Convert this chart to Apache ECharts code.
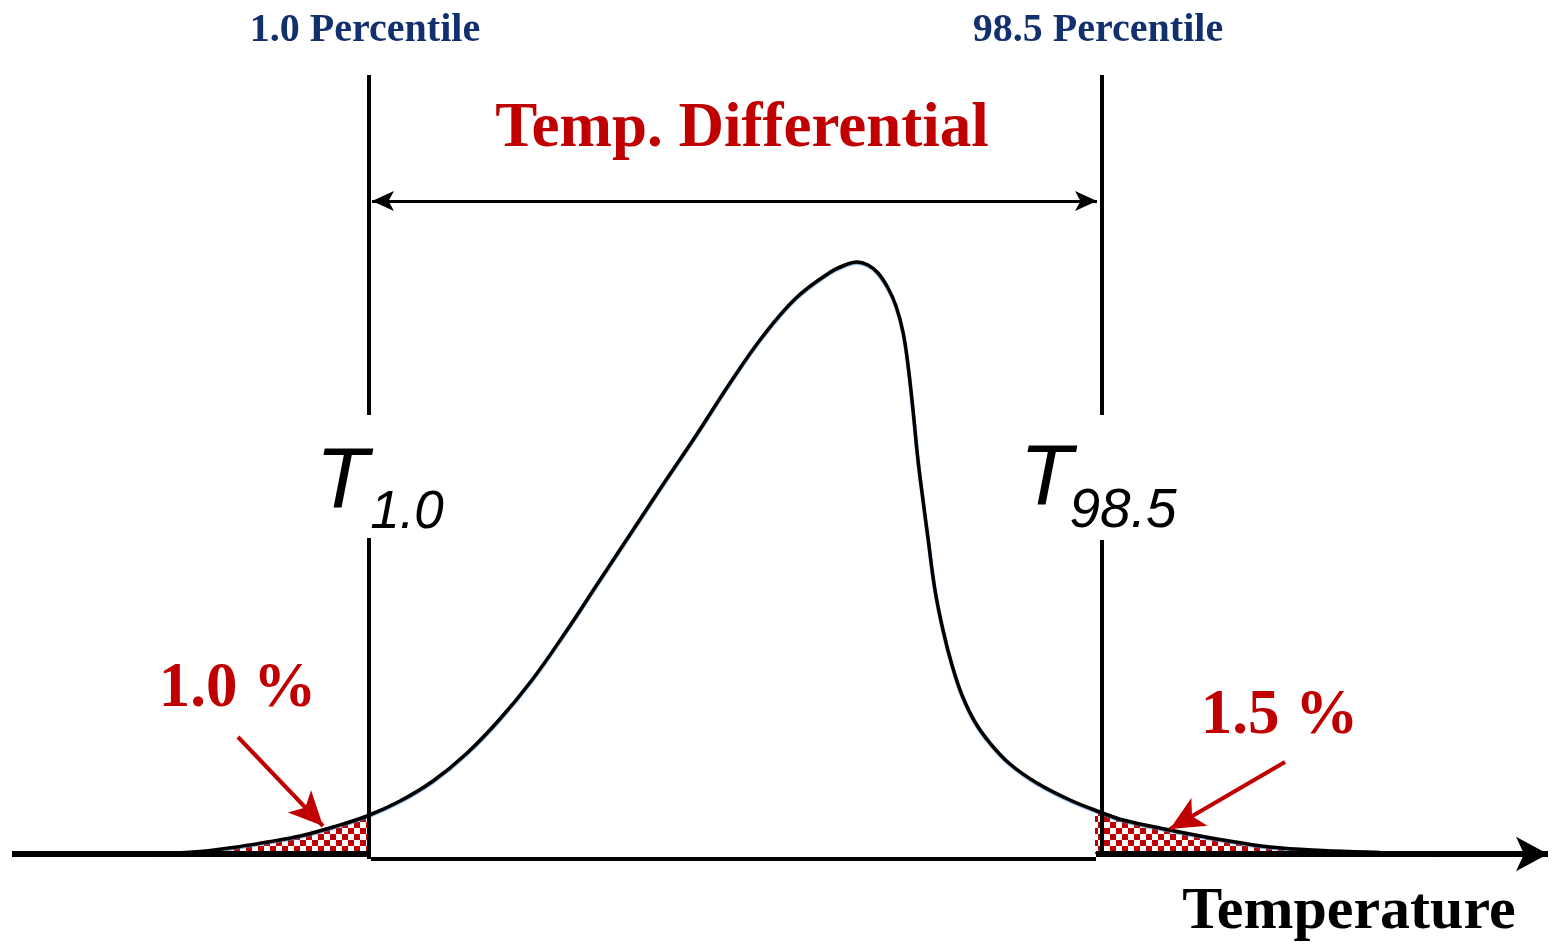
<!DOCTYPE html>
<html>
<head>
<meta charset="utf-8">
<script src="https://cdn.jsdelivr.net/npm/echarts@6/dist/echarts.min.js"></script>
<style>
html,body{margin:0;padding:0;background:#fff;}
#chart{width:1553px;height:947px;}
</style>
</head>
<body>
<div id="chart"></div>
<script>
// ---- data (temperature and density in arbitrary units) ----
const curveTemp    = [13.8, 18.8, 22.1, 25.5, 28.8, 32.1, 35.5, 38.8, 42.1, 45.4, 48.7, 52.0, 55.3, 58.6, 61.9, 65.2, 68.5, 71.8, 75.1, 78.4, 81.7, 83.3, 84.5, 85.6, 86.6, 87.6, 88.4, 89.1, 89.6, 90.1, 90.6, 91.1, 91.6, 92.3, 93.1, 94.0, 95.0, 96.3, 97.8, 99.8, 102.5, 105.8, 108.8, 111.1, 115.8, 121.1, 125.8, 131.1, 136.8, 142.8];
const curveDensity = [0.0, 0.25, 0.65, 1.2, 1.8, 2.7, 3.8, 5.3, 7.3, 10.0, 13.4, 17.4, 22.1, 27.1, 32.1, 37.1, 42.0, 47.1, 51.8, 55.6, 58.1, 58.9, 59.2, 58.9, 58.1, 56.6, 54.8, 52.2, 48.9, 44.4, 39.4, 35.4, 31.6, 26.4, 22.4, 18.9, 15.9, 13.2, 11.1, 9.0, 7.1, 5.4, 4.2, 3.4, 2.4, 1.4, 0.7, 0.35, 0.15, 0.0];

const lowTailTemp     = [22.1, 25.5, 28.8, 32.1, 35.5, 35.9];
const lowTailDensity  = [0.65, 1.2, 1.8, 2.7, 3.8, 3.95];
const highTailTemp    = [108.3, 108.8, 111.1, 115.8, 121.1, 125.8, 128.5];
const highTailDensity = [4.35, 4.2, 3.4, 2.4, 1.4, 0.7, 0.5];

const percentileLow  = 35.7;   // T1.0
const percentileHigh = 109.0;  // T98.5
const axisMin = 0, axisMax = 153.6;
const densityMin = -9.3, densityMax = 85.4;

const labels = {
  lowPct: '1.0 Percentile',
  highPct: '98.5 Percentile',
  diff: 'Temp. Differential',
  lowShare: '1.0 %',
  highShare: '1.5 %',
  xName: 'Temperature',
  T: 'T',
  lowSub: '1.0',
  highSub: '98.5'
};

const zip = (a, b) => a.map((v, i) => [v, b[i]]);

// checkerboard pattern for the tails
const pat = document.createElement('canvas');
pat.width = 12; pat.height = 12;
const pc = pat.getContext('2d');
pc.fillStyle = '#ffffff'; pc.fillRect(0, 0, 12, 12);
pc.fillStyle = '#c00000';
pc.fillRect(0, 0, 6, 6); pc.fillRect(6, 6, 6, 6);

const RED = '#c00000';
const NAVY = '#13306e';
const serif = '"Liberation Serif", "Times New Roman", serif';
const sans = '"Liberation Sans", Arial, sans-serif';

function textPoint(x, y, text, style) {
  return {
    coord: [x, y],
    symbol: 'circle', symbolSize: 1,
    itemStyle: { color: 'rgba(0,0,0,0)' },
    label: Object.assign({ show: true, position: 'inside', formatter: text }, style)
  };
}

const chart = echarts.init(document.getElementById('chart'), null, { renderer: 'canvas' });
chart.setOption({
  animation: false,
  backgroundColor: '#ffffff',
  grid: { left: 12, right: 5, top: 0, bottom: 0 },
  xAxis: { type: 'value', min: axisMin, max: axisMax, show: false },
  yAxis: { type: 'value', min: densityMin, max: densityMax, show: false },
  series: [
    { // lower tail hatch
      type: 'line', z: 1, data: zip(lowTailTemp, lowTailDensity), smooth: 0.4,
      showSymbol: false, lineStyle: { width: 0 },
      areaStyle: { color: { image: pat, repeat: 'repeat' }, opacity: 1, origin: 0 }
    },
    { // upper tail hatch
      type: 'line', z: 1, data: zip(highTailTemp, highTailDensity), smooth: 0.4,
      showSymbol: false, lineStyle: { width: 0 },
      areaStyle: { color: { image: pat, repeat: 'repeat' }, opacity: 1, origin: 0 }
    },
    { // distribution curve
      type: 'line', z: 3, data: zip(curveTemp, curveDensity), smooth: 0.4,
      showSymbol: false,
      lineStyle: { color: '#000', width: 3.5, shadowColor: 'rgba(70,130,190,0.7)', shadowBlur: 1, shadowOffsetY: 1 },
      markPoint: {
        silent: true,
        data: [
          textPoint(35.3, 82.3, labels.lowPct, { fontFamily: serif, fontWeight: 'bold', fontSize: 40, color: NAVY }),
          textPoint(108.6, 82.3, labels.highPct, { fontFamily: serif, fontWeight: 'bold', fontSize: 40, color: NAVY }),
          textPoint(73.0, 72.4, labels.diff, { fontFamily: serif, fontWeight: 'bold', fontSize: 63, color: RED }),
          textPoint(22.55, 16.4, labels.lowShare, { fontFamily: serif, fontWeight: 'bold', fontSize: 63, color: RED }),
          textPoint(126.75, 13.7, labels.highShare, { fontFamily: serif, fontWeight: 'bold', fontSize: 63, color: RED }),
          textPoint(133.7, -5.8, labels.xName, { fontFamily: serif, fontWeight: 'bold', fontSize: 60, color: '#000' }),
          textPoint(33.0, 37.1, labels.T, { fontFamily: sans, fontStyle: 'italic', fontSize: 86, color: '#000' }),
          textPoint(39.5, 34.1, labels.lowSub, { fontFamily: sans, fontStyle: 'italic', fontSize: 53, color: '#000' }),
          textPoint(103.4, 37.4, labels.T, { fontFamily: sans, fontStyle: 'italic', fontSize: 86, color: '#000' }),
          textPoint(111.1, 34.2, labels.highSub, { fontFamily: sans, fontStyle: 'italic', fontSize: 55, color: '#000' })
        ]
      }
    },
    { // percentile lines, axis and arrows
      type: 'line', z: 4, data: [],
      markLine: {
        silent: true, animation: false,
        label: { show: false },
        symbol: ['none', 'none'],
        lineStyle: { color: '#000', width: 4, type: 'solid' },
        data: [
          [{ coord: [percentileLow, 77.9] }, { coord: [percentileLow, 43.9] }],
          [{ coord: [percentileLow, 31.6] }, { coord: [percentileLow, -0.5] }],
          [{ coord: [percentileHigh, 77.9] }, { coord: [percentileHigh, 43.9] }],
          [{ coord: [percentileHigh, 31.4] }, { coord: [percentileHigh, 0] }],
          // temperature axis
          [{ coord: [axisMin, 0], lineStyle: { width: 6 } }, { coord: [35.9, 0] }],
          [{ coord: [35.9, -0.45], lineStyle: { width: 4 } }, { coord: [108.4, -0.45] }],
          [{ coord: [108.4, 0], lineStyle: { width: 6 } },
           { coord: [axisMax, 0], symbol: 'arrow', symbolSize: [26, 32] }],
          // differential double arrow
          [{ coord: [36.0, 65.3], symbol: 'arrow', symbolSize: [15, 22], lineStyle: { width: 3 } },
           { coord: [108.5, 65.3], symbol: 'arrow', symbolSize: [15, 22] }],
          // red pointers to the tails
          [{ coord: [22.6, 11.7], lineStyle: { color: RED, width: 4 }, itemStyle: { color: RED } },
           { coord: [31.1, 2.8], symbol: 'arrow', symbolSize: [24, 34], itemStyle: { color: RED } }],
          [{ coord: [127.3, 9.2], lineStyle: { color: RED, width: 4 }, itemStyle: { color: RED } },
           { coord: [115.8, 2.5], symbol: 'arrow', symbolSize: [24, 34], itemStyle: { color: RED } }]
        ]
      }
    }
  ]
});
</script>
</body>
</html>
